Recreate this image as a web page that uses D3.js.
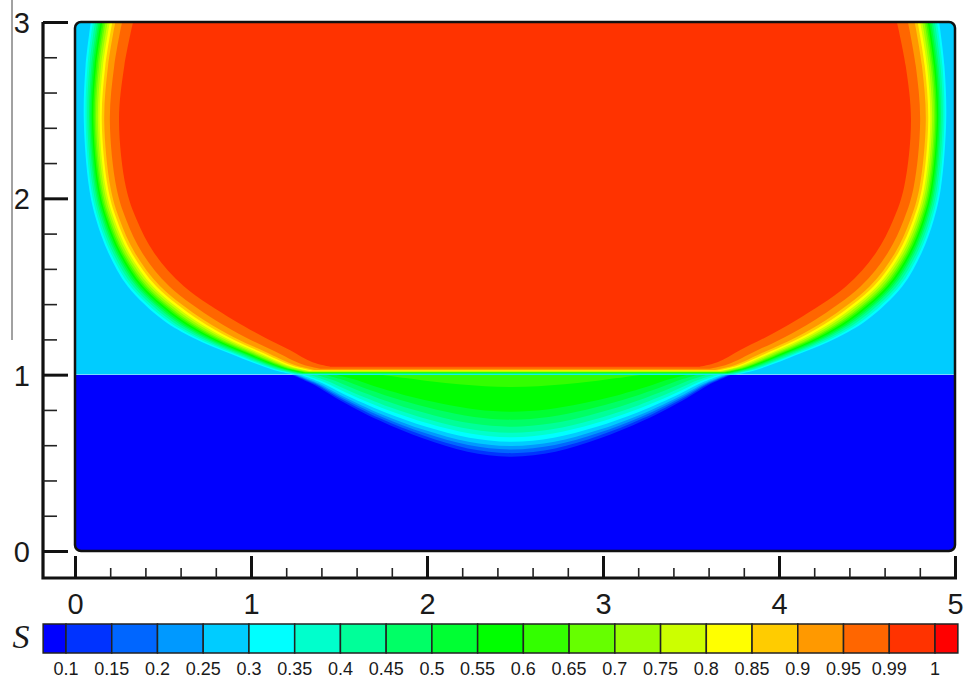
<!DOCTYPE html>
<html>
<head>
<meta charset="utf-8">
<script src="https://cdn.jsdelivr.net/npm/d3@7"></script>
<style>
  body { margin: 0; background: #fff; }
  svg { display: block; }
</style>
</head>
<body>
<svg id="chart" width="965" height="682"></svg>
<script>
// contour levels, band i lies between levels[i-1] and levels[i]
const levels = [0.1, 0.15, 0.2, 0.25, 0.3, 0.35, 0.4, 0.45, 0.5, 0.55, 0.6, 0.65, 0.7, 0.75, 0.8, 0.85, 0.9, 0.95, 0.99, 1]
const levelLabels = ["0.1", "0.15", "0.2", "0.25", "0.3", "0.35", "0.4", "0.45", "0.5", "0.55", "0.6", "0.65", "0.7", "0.75", "0.8", "0.85", "0.9", "0.95", "0.99", "1"]
const bandColors = ["#0000ff", "#0033ff", "#0066ff", "#0099ff", "#00ccff", "#00ffff", "#00ffcc", "#00ff99", "#00ff66", "#00ff33",
                    "#00ff00", "#33ff00", "#66ff00", "#99ff00", "#ccff00", "#ffff00", "#ffcc00", "#ff9900", "#ff6600", "#ff3300", "#ff0000"]

const xTicks = [0, 1, 2, 3, 4, 5]
const yTicks = [0, 1, 2, 3]

// upper zone (y > 1): plume edges as half-widths about x = 2.5
// outer = the S 0.3 contour, inner = the S 0.99 contour (matched point by point)
const plumeCenter = 2.5
const outerY  = [1.0, 1.03, 1.12, 1.21, 1.31, 1.5, 1.69, 1.88, 2.06, 2.44, 2.75, 3.0]
const outerHW = [1.25, 1.38, 1.62, 1.83, 2.0, 2.2, 2.31, 2.38, 2.42, 2.45, 2.44, 2.41]
const innerY  = [1.045, 1.07, 1.14, 1.21, 1.31, 1.5, 1.69, 1.88, 2.06, 2.44, 2.75, 3.0]
const innerHW = [1.05, 1.15, 1.28, 1.42, 1.6, 1.88, 2.05, 2.15, 2.21, 2.25, 2.22, 2.17]
// where each contour sits across the front (0 = outer edge, 1 = inner edge)
const upperLevels = [0.3, 0.35, 0.4, 0.45, 0.5, 0.55, 0.6, 0.65, 0.7, 0.75, 0.8, 0.85, 0.9, 0.95, 0.99]
const upperFrac   = [0, 0.05, 0.1, 0.15, 0.19, 0.23, 0.27, 0.31, 0.35, 0.4, 0.45, 0.51, 0.58, 0.74, 1]

// lower zone (y < 1): bowl under the plume
const bowlCenter = 2.48
const bowlLevels = [0.1, 0.15, 0.2, 0.25, 0.3, 0.35, 0.4, 0.45, 0.5, 0.55, 0.6]
const bowlHW     = [1.25, 1.24, 1.23, 1.22, 1.2, 1.18, 1.15, 1.11, 1.06, 1.0, 0.75]
const bowlBottom = [0.535, 0.555, 0.575, 0.595, 0.62, 0.645, 0.67, 0.705, 0.745, 0.79, 0.93]
// bowl edge shape: share of half-width -> share of depth
const bowlDx    = [0, 0.2, 0.4, 0.6, 0.8, 0.9, 1]
const bowlDepth = [1, 0.94, 0.78, 0.56, 0.28, 0.12, 0]

const svg = d3.select("#chart")
const x = d3.scaleLinear().domain([0, 5]).range([75, 955])
const y = d3.scaleLinear().domain([0, 3]).range([551, 22])
const axisX = 43, axisY = 578
const bandColor = lvl => bandColors[levels.indexOf(lvl) + 1]

const defs = svg.append("defs")
defs.append("clipPath").attr("id", "clipField").append("rect")
    .attr("x", x(0)).attr("y", y(3)).attr("width", x(5) - x(0)).attr("height", y(0) - y(3)).attr("rx", 6)
defs.append("clipPath").attr("id", "clipUpper").append("rect")
    .attr("x", x(0)).attr("y", y(3)).attr("width", x(5) - x(0)).attr("height", y(1) - y(3))
defs.append("clipPath").attr("id", "clipLower").append("rect")
    .attr("x", x(0)).attr("y", y(1)).attr("width", x(5) - x(0)).attr("height", y(0) - y(1))

const field = svg.append("g").attr("clip-path", "url(#clipField)")

// ---- lower zone
const lower = field.append("g").attr("clip-path", "url(#clipLower)")
lower.append("rect")
    .attr("x", x(0)).attr("y", y(1)).attr("width", x(5) - x(0)).attr("height", y(0) - y(1))
    .attr("fill", bandColors[0])

const bowlLine = d3.line().x(d => x(d[0])).y(d => y(d[1])).curve(d3.curveCatmullRom.alpha(0.5))
bowlLevels.forEach((lvl, k) => {
    const depth = 1 - bowlBottom[k]
    const pts = []
    for (let i = bowlDx.length - 1; i >= 0; i--) pts.push([bowlCenter - bowlDx[i] * bowlHW[k], 1 - bowlDepth[i] * depth])
    for (let i = 1; i < bowlDx.length; i++) pts.push([bowlCenter + bowlDx[i] * bowlHW[k], 1 - bowlDepth[i] * depth])
    lower.append("path")
        .attr("d", bowlLine(pts) + "Z")
        .attr("fill", bandColor(lvl))
})

// ---- upper zone
const upper = field.append("g").attr("clip-path", "url(#clipUpper)")
upper.append("rect")
    .attr("x", x(0)).attr("y", y(3)).attr("width", x(5) - x(0)).attr("height", y(1) - y(3))
    .attr("fill", bandColor(0.25))

const sideLine = d3.line().x(d => x(d[0])).y(d => y(d[1])).curve(d3.curveCatmullRom.alpha(0.5))
upperLevels.forEach((lvl, k) => {
    const f = upperFrac[k]
    const left = [], right = []
    outerY.forEach((oy, i) => {
        const hw = outerHW[i] + f * (innerHW[i] - outerHW[i])
        const yy = oy + f * (innerY[i] - oy)
        left.push([plumeCenter - hw, yy])
        right.unshift([plumeCenter + hw, yy])
    })
    const dL = sideLine(left), dR = sideLine(right)
    upper.append("path")
        .attr("d", dL + "L" + dR.slice(1) + "Z")
        .attr("fill", bandColor(lvl))
})

// field frame
svg.append("rect")
    .attr("x", x(0)).attr("y", y(3)).attr("width", x(5) - x(0)).attr("height", y(0) - y(3)).attr("rx", 6)
    .attr("fill", "none").attr("stroke", "#111").attr("stroke-width", 2.5)

// ---- axes
svg.append("path")
    .attr("d", `M${axisX},${y(3)}V${axisY}H${x(5) + 2}`)
    .attr("fill", "none").attr("stroke", "#111").attr("stroke-width", 3.2)

const minorX = d3.range(0, 5.001, 0.2).filter(v => Math.abs(v - Math.round(v)) > 1e-6)
const minorY = d3.range(0, 3.001, 0.2).filter(v => Math.abs(v - Math.round(v)) > 1e-6)

const yMajor = svg.append("g")
    .attr("transform", "translate(" + axisX + ",0)")
    .call(d3.axisLeft(y).tickValues(yTicks).tickSize(-25).tickPadding(13).tickFormat(d3.format("d")))
const yMinor = svg.append("g")
    .attr("transform", "translate(" + axisX + ",0)")
    .call(d3.axisLeft(y).tickValues(minorY).tickSize(-14).tickFormat(""))
const xMajor = svg.append("g")
    .attr("transform", "translate(0," + axisY + ")")
    .call(d3.axisBottom(x).tickValues(xTicks).tickSize(-22).tickPadding(15).tickFormat(d3.format("d")))
const xMinor = svg.append("g")
    .attr("transform", "translate(0," + axisY + ")")
    .call(d3.axisBottom(x).tickValues(minorX).tickSize(-10).tickFormat(""))

;[yMajor, yMinor, xMajor, xMinor].forEach(a => a.select(".domain").remove())
;[yMajor, xMajor].forEach(a => {
    a.selectAll(".tick line").attr("stroke", "#111").attr("stroke-width", 3)
    a.selectAll("text").attr("font-family", "'Liberation Sans', Arial, sans-serif").attr("font-size", 29).attr("fill", "#1a1a1a")
})
;[yMinor, xMinor].forEach(a => a.selectAll(".tick line").attr("stroke", "#222").attr("stroke-width", 1.6))
yMajor.selectAll("text").attr("dy", "0.36em")

// ---- colour bar
const cb = d3.scaleLinear().domain([0, levels.length - 1]).range([66, 935])
const cbTop = 624, cbH = 29
const edges = [-0.5].concat(d3.range(levels.length)).concat([levels.length - 0.5])
svg.append("g").selectAll("rect")
    .data(bandColors)
    .join("rect")
        .attr("x", (d, i) => cb(edges[i]))
        .attr("y", cbTop)
        .attr("width", (d, i) => cb(edges[i + 1]) - cb(edges[i]))
        .attr("height", cbH)
        .attr("fill", d => d)
        .attr("stroke", "#222")
        .attr("stroke-width", 1.5)

svg.append("g").selectAll("text")
    .data(levelLabels)
    .join("text")
        .attr("x", (d, i) => cb(i))
        .attr("y", 675)
        .attr("text-anchor", "middle")
        .attr("font-family", "'Liberation Sans', Arial, sans-serif")
        .attr("font-size", 18)
        .attr("fill", "#1a1a1a")
        .text(d => d)

svg.append("text")
    .attr("x", 21).attr("y", 648)
    .attr("text-anchor", "middle")
    .attr("font-family", "'Liberation Serif', 'Times New Roman', serif")
    .attr("font-style", "italic")
    .attr("font-size", 34)
    .attr("fill", "#1a1a1a")
    .text("S")

// thin rule at the far left of the scan
svg.append("line")
    .attr("x1", 12).attr("x2", 12).attr("y1", 0).attr("y2", 340)
    .attr("stroke", "#444").attr("stroke-width", 1)
</script>
</body>
</html>
